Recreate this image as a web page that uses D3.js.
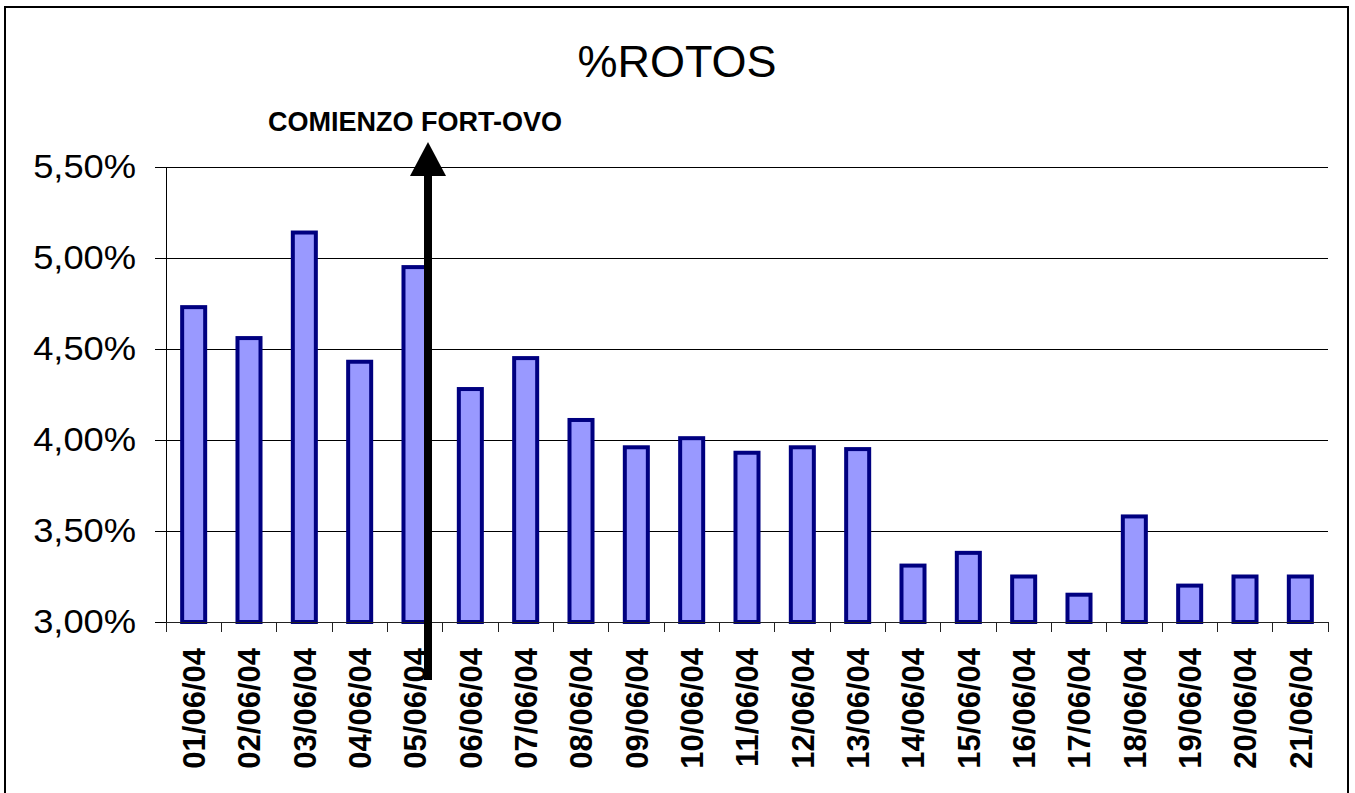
<!DOCTYPE html>
<html>
<head>
<meta charset="utf-8">
<script src="https://cdn.jsdelivr.net/npm/d3@7"></script>
<style>
  body { margin: 0; background: #fff; }
  text { font-family: "Liberation Sans", Arial, sans-serif; }
</style>
</head>
<body>
<svg id="chart"></svg>
<script>
const dates = ["01/06/04","02/06/04","03/06/04","04/06/04","05/06/04","06/06/04","07/06/04",
  "08/06/04","09/06/04","10/06/04","11/06/04","12/06/04","13/06/04","14/06/04",
  "15/06/04","16/06/04","17/06/04","18/06/04","19/06/04","20/06/04","21/06/04"];
const rotos = [0.0473,0.0456,0.0514,0.0443,0.0495,0.0428,0.0445,
  0.0411,0.0396,0.0401,0.0393,0.0396,0.0395,0.0331,
  0.0338,0.0325,0.0315,0.0358,0.0320,0.0325,0.0325];
const yTicks = [0.03,0.035,0.04,0.045,0.05,0.055];
const title = "%ROTOS";
const note = "COMIENZO FORT-OVO";
const noteDate = "05/06/04";

const data = dates.map((d, i) => ({ date: d, value: rotos[i] }));

const width = 1355, height = 793;
const margin = { top: 167, right: 27, bottom: 171, left: 166 };

const svg = d3.select("#chart").attr("width", width).attr("height", height);

// outer frame
svg.append("rect")
  .attr("x", 5).attr("y", 7)
  .attr("width", 1343).attr("height", 820)
  .attr("fill", "none").attr("stroke", "#000").attr("stroke-width", 2);

const x = d3.scaleBand()
  .domain(dates)
  .range([margin.left, width - margin.right])
  .paddingInner(0.584)
  .paddingOuter(0.292);

const y = d3.scaleLinear()
  .domain([0.03, 0.055])
  .range([height - margin.bottom, margin.top]);

// gridlines
svg.append("g")
  .selectAll("line")
  .data(yTicks.filter(t => t > 0.03))
  .join("line")
  .attr("x1", margin.left).attr("x2", width - margin.right)
  .attr("y1", d => y(d)).attr("y2", d => y(d))
  .attr("stroke", "#000").attr("stroke-width", 1)
  .attr("shape-rendering", "crispEdges");

// Y axis
const stretch = 1.1;
const yAxis = svg.append("g")
  .attr("transform", `translate(${margin.left},0)`)
  .call(d3.axisLeft(y)
    .tickValues(yTicks)
    .tickSize(11)
    .tickSizeOuter(0)
    .tickFormat(d => d3.format(".2f")(d * 100).replace(".", ",") + "%"));
yAxis.select(".domain").remove();
yAxis.selectAll("line").attr("stroke", "#000").attr("shape-rendering", "crispEdges");
yAxis.selectAll("text")
  .attr("fill", "#000")
  .attr("x", -30 / stretch)
  .attr("transform", `scale(${stretch},1)`)
  .style("font-size", "33px")
  .style("font-family", "'Liberation Sans', Arial, sans-serif");
svg.append("line")
  .attr("x1", margin.left).attr("x2", margin.left)
  .attr("y1", y(0.055)).attr("y2", y(0.03) + 10)
  .attr("stroke", "#000").attr("shape-rendering", "crispEdges");

// bars
svg.append("g")
  .selectAll("rect")
  .data(data)
  .join("rect")
  .attr("x", d => x(d.date))
  .attr("y", d => y(d.value))
  .attr("width", x.bandwidth())
  .attr("height", d => y(0.03) - y(d.value))
  .attr("fill", "#9999FF")
  .attr("stroke", "#000080")
  .attr("stroke-width", 4);

// X axis line and boundary ticks
const x0 = x.range()[0];
svg.append("line")
  .attr("x1", x0).attr("x2", x.range()[1])
  .attr("y1", y(0.03)).attr("y2", y(0.03))
  .attr("stroke", "#222").attr("shape-rendering", "crispEdges");
svg.append("g")
  .selectAll("line")
  .data(d3.range(dates.length + 1))
  .join("line")
  .attr("x1", i => x0 + i * x.step()).attr("x2", i => x0 + i * x.step())
  .attr("y1", y(0.03)).attr("y2", y(0.03) + 10)
  .attr("stroke", "#222").attr("shape-rendering", "crispEdges");

// X labels
const xAxis = svg.append("g")
  .attr("transform", `translate(0,${y(0.03)})`)
  .call(d3.axisBottom(x).tickSize(0));
xAxis.select(".domain").remove();
xAxis.selectAll("text")
  .attr("transform", "rotate(-90)")
  .attr("x", -26)
  .attr("y", 0)
  .attr("dy", "0.36em")
  .style("text-anchor", "end")
  .style("font-size", "31px")
  .style("font-weight", "bold")
  .style("font-family", "'Liberation Sans', Arial, sans-serif")
  .attr("fill", "#000");

// title
svg.append("text")
  .attr("x", 677).attr("y", 77)
  .attr("text-anchor", "middle")
  .style("font-size", "45px")
  .text(title);

// annotation arrow
const ax = x(noteDate) + x.bandwidth() / 2 + 13;
const tipY = y(0.055) - 25;
svg.append("rect")
  .attr("x", ax - 4).attr("y", tipY + 30)
  .attr("width", 8).attr("height", 680 - (tipY + 30))
  .attr("fill", "#000");
svg.append("path")
  .attr("d", `M${ax - 18},${tipY + 34} L${ax + 18},${tipY + 34} L${ax},${tipY} Z`)
  .attr("fill", "#000");
svg.append("text")
  .attr("x", 268).attr("y", 131)
  .style("font-size", "27px")
  .style("font-weight", "bold")
  .text(note);
</script>
</body>
</html>
